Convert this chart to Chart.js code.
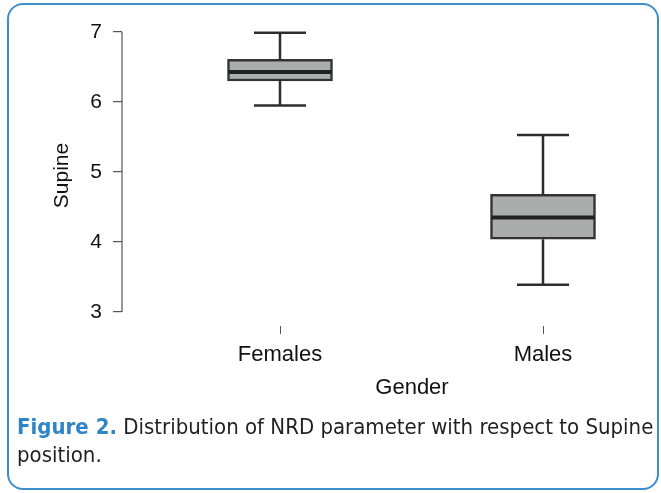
<!DOCTYPE html>
<html>
<head>
<meta charset="utf-8">
<script src="https://cdn.jsdelivr.net/npm/chart.js@4"></script>
<style>
  html, body { margin:0; padding:0; background:#fff; }
  #wrap { position:relative; width:661px; height:493px; overflow:hidden; }
  #frame { position:absolute; left:7px; top:3px; width:652px; height:487px; border:2px solid #3d8fcb; border-radius:16px; box-sizing:border-box; }
  #cv { position:absolute; left:0; top:0; }
  #xtitle { position:absolute; left:0; width:824px; top:374px; text-align:center; font-family:"Liberation Sans",Arial,sans-serif; font-size:22px; color:#111; line-height:26px; }
  #cap { position:absolute; left:17px; top:413px; width:644px; font-family:"Liberation Sans Narrow","DejaVu Sans Condensed","Liberation Sans",sans-serif; font-size:22px; line-height:28px; color:#231f20; }
  #cap b { color:#2e86c6; font-weight:bold; }
</style>
</head>
<body>
<div id="wrap">
  <div id="frame"></div>
  <canvas id="cv" width="661" height="405"></canvas>
  <div id="xtitle">Gender</div>
  <div id="cap"><b>Figure 2.</b> Distribution of NRD parameter with respect to Supine position.</div>
</div>
<script>
const categories = ["Females", "Males"];
const whiskerMin = [5.95, 3.39];
const q1 = [6.30, 4.04];
const median = [6.43, 4.35];
const q3 = [6.61, 4.68];
const whiskerMax = [6.99, 5.53];
const yTicks = [3, 4, 5, 6, 7];
const xPositions = [1, 2];

const boxData = categories.map((c, i) => ({ x: xPositions[i], y: [q1[i], q3[i]] }));

const boxPlugin = {
  id: 'boxExtras',
  beforeDatasetsDraw(chart) {
    const ctx = chart.ctx, xs = chart.scales.x, ys = chart.scales.y;
    ctx.save();
    ctx.strokeStyle = '#2e2e2e';
    ctx.lineWidth = 2.5;
    const capHalf = 26;
    categories.forEach((c, i) => {
      const x = xs.getPixelForValue(xPositions[i]);
      const yMin = ys.getPixelForValue(whiskerMin[i]);
      const yMax = ys.getPixelForValue(whiskerMax[i]);
      const yq1 = ys.getPixelForValue(q1[i]);
      const yq3 = ys.getPixelForValue(q3[i]);
      ctx.beginPath();
      ctx.moveTo(x, yMax); ctx.lineTo(x, yq3);
      ctx.moveTo(x, yq1); ctx.lineTo(x, yMin);
      ctx.moveTo(x - capHalf, yMax); ctx.lineTo(x + capHalf, yMax);
      ctx.moveTo(x - capHalf, yMin); ctx.lineTo(x + capHalf, yMin);
      ctx.stroke();
    });
    const ax = chart.chartArea.left;
    ctx.strokeStyle = '#555';
    ctx.lineWidth = 1.2;
    ctx.beginPath();
    ctx.moveTo(ax, ys.getPixelForValue(yTicks[0]));
    ctx.lineTo(ax, ys.getPixelForValue(yTicks[yTicks.length - 1]));
    ctx.stroke();
    ctx.restore();
  },
  afterDatasetsDraw(chart) {
    const ctx = chart.ctx, xs = chart.scales.x, ys = chart.scales.y;
    const meta = chart.getDatasetMeta(0);
    ctx.save();
    ctx.strokeStyle = '#222';
    ctx.lineWidth = 4;
    categories.forEach((c, i) => {
      const bar = meta.data[i];
      const half = bar.width / 2;
      const x = xs.getPixelForValue(xPositions[i]);
      const y = ys.getPixelForValue(median[i]);
      ctx.beginPath();
      ctx.moveTo(x - half + 1, y); ctx.lineTo(x + half - 1, y);
      ctx.stroke();
    });
    ctx.restore();
  }
};

new Chart(document.getElementById('cv'), {
  type: 'bar',
  data: {
    datasets: [{
      label: 'Supine',
      data: boxData,
      backgroundColor: '#abadad',
      borderColor: '#333',
      borderWidth: 2.5,
      borderSkipped: false,
      barThickness: 105
    }]
  },
  plugins: [boxPlugin],
  options: {
    responsive: false,
    animation: false,
    devicePixelRatio: 1,
    layout: { padding: { left: 0, right: 16, top: 25, bottom: 0 } },
    plugins: { legend: { display: false }, tooltip: { enabled: false } },
    scales: {
      x: {
        type: 'linear',
        offset: false,
        min: 1 - 158 / 263,
        max: 2 + 102 / 263,
        afterBuildTicks(scale) { scale.ticks = xPositions.map(v => ({ value: v })); },
        afterFit(scale) { scale.height = 79; },
        border: { display: false },
        grid: { offset: false, drawOnChartArea: false, drawTicks: true, tickLength: 8, color: '#555', lineWidth: 1 },
        ticks: {
          callback: (v) => categories[xPositions.indexOf(v)] ?? '',
          color: '#111',
          font: { family: 'Liberation Sans', size: 22 },
          padding: 8,
          maxRotation: 0,
          autoSkip: false
        }
      },
      y: {
        min: 2.8,
        max: 7.1,
        afterBuildTicks(scale) { scale.ticks = yTicks.map(v => ({ value: v })); },
        afterFit(scale) { scale.width = 122; },
        border: { display: false },
        grid: { drawOnChartArea: false, drawTicks: true, tickLength: 9, color: '#555', lineWidth: 1.2 },
        ticks: {
          color: '#111',
          font: { family: 'Liberation Sans', size: 21 },
          padding: 11
        },
        title: {
          display: true,
          text: 'Supine',
          color: '#111',
          font: { family: 'Liberation Sans', size: 21 },
          padding: { top: 50, bottom: 0 }
        }
      }
    }
  }
});
</script>
</body>
</html>
